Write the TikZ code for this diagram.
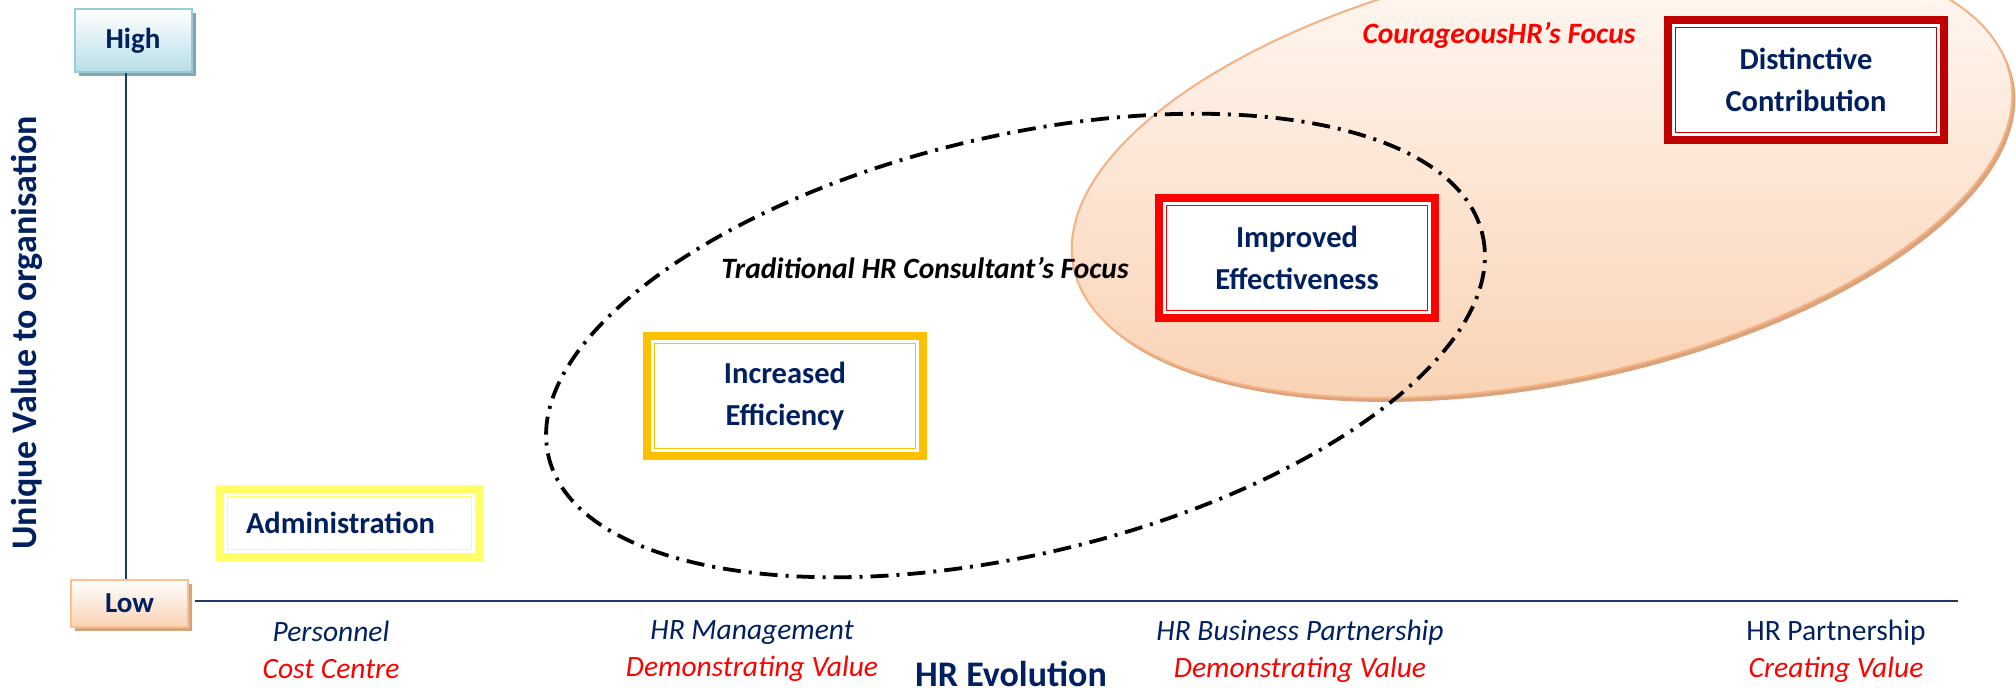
\documentclass[tikz,border=0pt]{standalone}
\usepackage{fontspec}
\setmainfont{Carlito}
\usepackage{xcolor}
\usetikzlibrary{positioning,shadows}
\definecolor{navy}{HTML}{002060}
\definecolor{axisblue}{HTML}{1F3864}
\definecolor{adminyellow}{HTML}{FFFF66}
\definecolor{effgold}{HTML}{FFC000}
\definecolor{impred}{HTML}{FF0000}
\definecolor{distred}{HTML}{C00000}
\definecolor{peachtop}{HTML}{FFF8F3}
\definecolor{peachbot}{HTML}{F9D0B0}
\definecolor{peachline}{HTML}{F4B183}
\definecolor{peachshadow}{HTML}{D9A37C}
\definecolor{highblue}{HTML}{B7DEE8}
\definecolor{highline}{HTML}{92CDDC}
\definecolor{highshadow}{HTML}{8FA3AD}
\definecolor{lowpeach}{HTML}{FAD3B3}
\definecolor{lowline}{HTML}{FAC090}
\definecolor{lowshadow}{HTML}{D4A57E}
\tikzset{
    focusbox/.style={rectangle, draw, fill=white, line width=8.5pt, outer sep=0pt, minimum width=276pt, minimum height=120pt, align=center, text=navy, font=\bfseries\fontsize{30.5}{42}\selectfont},
    levelbox/.style={rectangle, draw, line width=2pt, minimum width=117pt, text=navy, font=\bfseries\fontsize{29}{34}\selectfont},
    stage/.style={align=center, text=navy, font=\itshape\fontsize{29.5}{37}\selectfont},
    axisline/.style={draw=axisblue, line width=2.5pt},
    axistitle/.style={text=navy, font=\bfseries\fontsize{36}{40}\selectfont},
    focuslabel/.style={font=\bfseries\itshape\fontsize{29.5}{34}\selectfont},
    traditional/.style={draw=black, line width=3.8pt, dash pattern=on 18pt off 8pt on 3pt off 8pt}
}
\begin{document}
\begin{tikzpicture}[x=1pt, y=-1pt]
    \useasboundingbox (0,0) rectangle (2016,692);
    \clip (0,0) rectangle (2016,692);

    % Focus areas
    \fill [peachshadow, xshift=3pt, yshift=-4pt, rotate around={11.5:(1542,172)}] (1542,172) ellipse [x radius=478, y radius=209];
    \shade [top color=peachtop, bottom color=peachbot, rotate around={11.5:(1542,172)}] (1542,172) ellipse [x radius=478, y radius=209];
    \draw [peachline, line width=2pt, rotate around={11.5:(1542,172)}] (1542,172) ellipse [x radius=478, y radius=209];
    \draw [traditional, rotate around={13.4:(1015.5,345.5)}] (1015.5,345.5) ellipse [x radius=480, y radius=209];

    \node [focuslabel, text=impred] (courageous) at (1499,35) {CourageousHR’s Focus};
    \node [focuslabel, text=black] (consultant) at (925,268) {Traditional HR Consultant’s Focus};

    % Axes
    \node [levelbox, draw=highline, top color=white, bottom color=highblue, minimum height=63pt,
           drop shadow={shadow xshift=4pt, shadow yshift=-4pt, fill=highshadow, opacity=1}] (high) at (133,41) {High};
    \node [levelbox, draw=lowline, top color=white, bottom color=lowpeach, minimum height=47pt,
           drop shadow={shadow xshift=4pt, shadow yshift=-4pt, fill=lowshadow, opacity=1}] (low) at (129.5,603.5) {Low};
    \coordinate (xend) at (1958,601);
    \draw [axisline] ([xshift=-7pt]high.south) -- ([xshift=-7pt]high.south |- low.north);
    \draw [axisline, line width=2pt] ([xshift=6pt]low.east |- xend) -- (xend);

    \node [axistitle, rotate=90] (valuetitle) at (27,333) {Unique Value to organisation};
    \node [axistitle] (evolution) at (1011,674) {HR Evolution};

    % HR stages
    \node [focusbox, draw=adminyellow, line width=8pt, minimum width=259pt, minimum height=68pt] (admin) at (349.5,523) {Administration\hspace*{18pt}};
    \node [focusbox, draw=effgold] (efficiency) at (785,396) {Increased\\Efficiency};
    \node [focusbox, draw=impred] (effectiveness) at (1297,258) {Improved\\Effectiveness};
    \node [focusbox, draw=distred] (contribution) at (1806,80) {Distinctive\\Contribution};
    \foreach \fb/\col in {admin/adminyellow, efficiency/effgold, effectiveness/impred, contribution/distred}
        \draw [\col, line width=1.6pt] ([xshift=7.5pt, yshift=-7.5pt]\fb.north west) rectangle ([xshift=-7.5pt, yshift=7.5pt]\fb.south east);

    % Evolution labels
    \node [stage] (personnel) at (331,650) {Personnel\\\textcolor{impred}{Cost Centre}};
    \node [stage] (management) at (752,651) {HR Management\\\textcolor{impred}{Demonstrating Value}};
    \node [stage] (business) at (1300,651) {HR Business Partnership\\\textcolor{impred}{Demonstrating Value}};
    \node [stage, font=\fontsize{29.5}{37}\selectfont] (partnership) at (1836,651) {HR Partnership\\\textcolor{impred}{\itshape Creating Value}};
\end{tikzpicture}
\end{document}
